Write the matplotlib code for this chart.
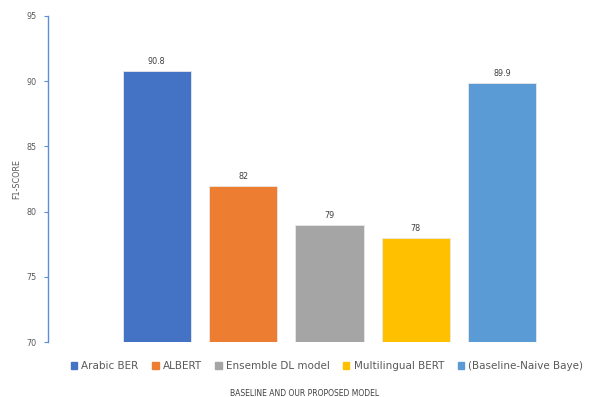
import matplotlib.pyplot as plt

models = ['Arabic BER', 'ALBERT', 'Ensemble DL model', 'Multilingual BERT', '(Baseline-Naive Baye)']
scores = [90.8, 82, 79, 78, 89.9]
score_labels = ['90.8', '82', '79', '78', '89.9']
colors = ['#4472C4', '#ED7D31', '#A5A5A5', '#FFC000', '#5B9BD5']
yticks = [70, 75, 80, 85, 90, 95]


def main():
    fig = plt.figure(figsize=(6.11, 3.97), dpi=100)
    ax = fig.add_axes([48/611, 1 - 342/397, 1 - 48/611, (342 - 16)/397])

    pos = list(range(len(models)))
    bars = ax.bar(pos, [s - 70 for s in scores], bottom=70, width=0.79,
                  color=colors, edgecolor='#E8E8E8', linewidth=0.6)
    for b, lab in zip(bars, score_labels):
        ax.text(b.get_x() + b.get_width()/2, b.get_y() + b.get_height() + 0.35, lab,
                ha='center', va='bottom', fontsize=5.8, color='#404040')

    ax.set_xlim(-1.26, 5.26)
    ax.set_ylim(70, 95)
    ax.set_yticks(yticks)
    ax.set_xticks([])
    ax.tick_params(axis='y', labelsize=5.8, labelcolor='#595959', color='#5B8FD9',
                   length=3, width=0.8, pad=5)
    for s in ['top', 'right', 'bottom']:
        ax.spines[s].set_visible(False)
    ax.spines['left'].set_color('#5B8FD9')
    ax.spines['left'].set_linewidth(1.0)

    ax.set_ylabel('F1-SCORE', fontsize=5.8, color='#595959', labelpad=4)

    handles = [plt.Rectangle((0, 0), 1, 1, color=c) for c in colors]
    fig.legend(handles, models, loc='center', bbox_to_anchor=(327/611, 1 - 366/397),
               ncol=5, frameon=False, fontsize=7.5, handlelength=0.6, handleheight=0.6,
               handletextpad=0.4, columnspacing=1.3, labelcolor='#595959')
    fig.text(305/611, 1 - 393/397, 'BASELINE AND OUR PROPOSED MODEL', ha='center',
             va='center', fontsize=5.5, color='#404040')

    fig.savefig('out.png', dpi=100)


main()
